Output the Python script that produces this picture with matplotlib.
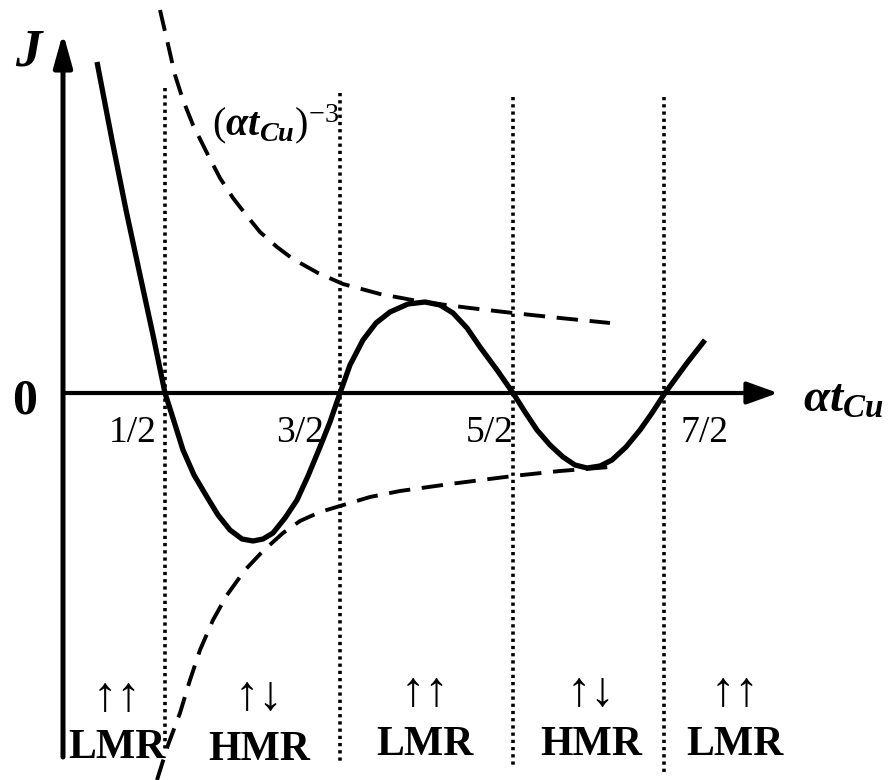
import matplotlib
matplotlib.use("Agg")
import matplotlib.pyplot as plt

plt.rcParams['font.family'] = ['Liberation Serif', 'DejaVu Serif']
plt.rcParams['mathtext.fontset'] = 'custom'
plt.rcParams['mathtext.rm'] = 'Liberation Serif'
plt.rcParams['mathtext.it'] = 'Liberation Serif:italic'
plt.rcParams['mathtext.bf'] = 'Liberation Serif:bold'
plt.rcParams['mathtext.bfit'] = 'Liberation Serif:bold:italic'

# schematic units: x = alpha*t_Cu axis (origin at the J axis), y = J
curve_x = [0.34, 0.49, 0.63, 0.77, 0.90, 1.02, 1.09, 1.20, 1.31, 1.44, 1.55, 1.67, 1.79,
           1.90, 2.00, 2.10, 2.22, 2.34, 2.45, 2.57, 2.67, 2.77, 2.87, 3.00, 3.13, 3.27,
           3.45, 3.62, 3.77, 3.90, 4.04, 4.17, 4.34, 4.50, 4.62, 4.74, 4.87, 5.00, 5.12,
           5.24, 5.37, 5.49, 5.63, 5.77, 5.89, 6.02, 6.13, 6.24, 6.42]
curve_y = [3.31, 2.53, 1.83, 1.18, 0.58, 0.00, -0.22, -0.57, -0.82, -1.04, -1.22, -1.37, -1.46,
           -1.48, -1.46, -1.40, -1.25, -1.07, -0.83, -0.54, -0.29, 0.00, 0.28, 0.53, 0.70, 0.81,
           0.89, 0.91, 0.88, 0.80, 0.65, 0.46, 0.23, 0.00, -0.19, -0.37, -0.52, -0.64, -0.72,
           -0.75, -0.73, -0.67, -0.54, -0.37, -0.20, 0.00, 0.15, 0.30, 0.53]

upper_x = [0.97, 1.04, 1.12, 1.20, 1.30, 1.45, 1.57, 1.70, 1.84, 1.97, 2.14, 2.30, 2.55,
           2.80, 3.17, 3.60, 4.07, 4.50, 4.97, 5.47]
upper_y = [3.83, 3.53, 3.18, 2.93, 2.68, 2.38, 2.15, 1.95, 1.77, 1.61, 1.46, 1.34, 1.20,
           1.09, 0.99, 0.91, 0.85, 0.80, 0.75, 0.70]

lower_x = [0.94, 1.05, 1.17, 1.27, 1.37, 1.50, 1.64, 1.82, 2.00, 2.20, 2.37, 2.57, 2.77,
           3.07, 3.37, 3.87, 4.50, 4.97, 5.47]
lower_y = [-3.87, -3.52, -3.20, -2.87, -2.57, -2.27, -2.02, -1.77, -1.58, -1.40, -1.28, -1.19,
           -1.13, -1.04, -0.98, -0.91, -0.83, -0.78, -0.74]

# half-integer nodes
node_x = [1.02, 2.77, 4.50, 6.01]
node_top = [3.05, 3.00, 2.96, 2.96]
node_bottom = [-3.57, -3.70, -3.74, -3.79]
node_labels = ['1/2', '3/2', '5/2', '7/2']
node_label_x = [0.70, 2.37, 4.27, 6.42]

# regions below the curve
spin_labels = ['↑↑', '↑↓', '↑↑', '↑↓', '↑↑']
mr_labels = ['LMR', 'HMR', 'LMR', 'HMR', 'LMR']
region_x = [0.54, 1.96, 3.62, 5.28, 6.72]
spin_y = [-3.06, -3.05, -3.01, -3.01, -3.01]
mr_y = [-3.65, -3.67, -3.62, -3.62, -3.62]

fig = plt.figure(figsize=(8.93, 7.8), dpi=100)
ax = fig.add_axes([0, 0, 1, 1])
ax.set_xlim(-0.63, 8.30)
ax.set_ylim(-3.87, 3.93)
ax.axis('off')

# axes with arrow heads
ax.annotate('', xy=(0, 3.60), xytext=(0, -3.64),
            arrowprops=dict(arrowstyle='-|>,head_length=1.0,head_width=0.28', lw=3.6,
                            color='black', mutation_scale=20, shrinkA=0, shrinkB=0))
ax.annotate('', xy=(7.15, 0), xytext=(0, 0),
            arrowprops=dict(arrowstyle='-|>,head_length=1.0,head_width=0.36', lw=3.0,
                            color='black', mutation_scale=19, shrinkA=0, shrinkB=0))

for x, y0, y1 in zip(node_x, node_top, node_bottom):
    ax.plot([x, x], [y0, y1], color='black', lw=2.6, linestyle=(0, (0.9, 1.1)),
            dash_capstyle='butt')

ax.plot(upper_x, upper_y, color='black', lw=2.8, linestyle=(0, (5.5, 3.0)))
ax.plot(lower_x, lower_y, color='black', lw=2.8, linestyle=(0, (5.5, 3.0)))
ax.plot(curve_x, curve_y, color='black', lw=3.8, solid_joinstyle='round',
        solid_capstyle='butt')

# axis texts
ax.text(-0.35, 3.28, 'J', fontsize=38, fontweight='bold', fontstyle='italic',
        ha='center', va='baseline')
ax.text(-0.38, -0.20, '0', fontsize=36, fontweight='bold', ha='center', va='baseline')
ax.text(7.40, -0.19, r'$\mathbfit{αt}_{\mathbfit{Cu}}$', fontsize=34,
        ha='left', va='baseline')

for x, lab in zip(node_label_x, node_labels):
    ax.text(x, -0.49, lab, fontsize=27, ha='center', va='baseline')

# envelope label (alpha t_Cu)^-3
ax.text(1.49, 2.58, r'$(\mathbfit{αt}_{\mathbfit{Cu}})^{\mathrm{-3}}$', fontsize=29,
        ha='left', va='baseline')

for x, s, m, ys, ym in zip(region_x, spin_labels, mr_labels, spin_y, mr_y):
    ax.text(x, ys, s, fontsize=35, ha='center', va='center')
    ax.text(x, ym, m, fontsize=30, fontweight='bold', ha='center', va='baseline')

fig.savefig('out.png', dpi=100)
